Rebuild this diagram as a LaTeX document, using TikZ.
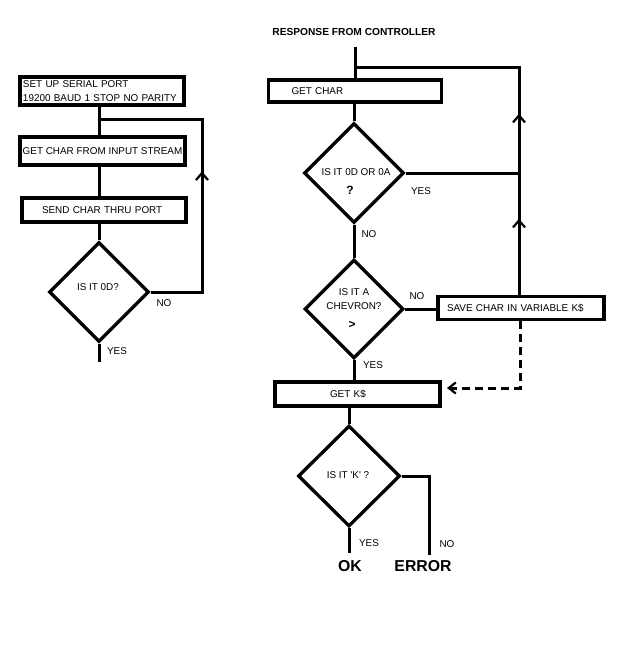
\documentclass[tikz,border=0pt]{standalone}
\usepackage{fontspec}
\setmainfont{Liberation Sans}
\usetikzlibrary{shapes.geometric,arrows.meta,decorations.markings}

\begin{document}
\begin{tikzpicture}[x=1pt,y=-1pt,
  txt/.style={inner sep=0pt, font=\fontsize{9.9pt}{14pt}\selectfont},
  bigtxt/.style={inner sep=0pt, font=\fontsize{15.8pt}{18pt}\selectfont\bfseries},
  procbox/.style={draw, line width=3.5pt, inner ysep=0pt,
    font=\fontsize{9.9pt}{14pt}\selectfont},
  decision/.style={draw, diamond, line width=3.3pt, inner sep=0pt,
    minimum width=100pt, minimum height=100pt},
  conn/.style={line width=3pt},
  upmark/.style={postaction={decorate, decoration={markings,
    mark=at position #1 with {\arrow{Straight Barb[length=7pt,width=12pt,line width=2.2pt]}}}}}
]
\useasboundingbox (0,0) rectangle (632,650);

% ---------- serial port loop (left) ----------
\node[procbox, minimum width=164pt, minimum height=28pt, text width=158pt,
      inner xsep=3pt, align=left] (setup) at (102,91)
  {SET UP SERIAL PORT\\19200 BAUD 1 STOP NO PARITY};
\node[procbox, minimum width=165pt, minimum height=28pt, inner xsep=2pt]
  (getin) at (102.5,151) {GET CHAR FROM INPUT STREAM};
\node[procbox, minimum width=164pt, minimum height=24pt, text width=124pt,
      inner xsep=20pt, align=left] (send) at (104,210)
  {SEND CHAR THRU PORT};
\node[decision] (d1) at (99,292) {};
\node[txt] (t1) at (98,287) {IS IT 0D?};
\node[txt] (no1) at (164,303) {NO};
\node[txt] (yes1) at (117,351) {YES};

\coordinate (lloop) at (202,120);
\coordinate (lj) at (99,120);
\coordinate (lend) at (99,362);

\draw[conn] (setup.south -| d1.north) -- (getin.north -| d1.north);
\draw[conn] (getin.south -| d1.north) -- (send.north -| d1.north);
\draw[conn] (send.south -| d1.north) -- (d1.north);
\draw[conn] (d1.south) -- (lend);
\draw[conn, upmark=172pt] (d1.east) -| (lloop) -- (lj);

% ---------- controller response (right) ----------
\node[inner sep=0pt, font=\fontsize{10.2pt}{12pt}\selectfont\bfseries]
  (title) at (354,32) {RESPONSE FROM CONTROLLER};
\coordinate (src) at (355,47);
\coordinate (rtop) at (519,68);

\node[procbox, minimum width=173pt, minimum height=22pt, text width=127pt,
      inner xsep=23pt, align=left] (getc) at (355,91) {GET CHAR};
\node[decision] (d2) at (354,173) {};
\node[txt] (t2a) at (356,172) {IS IT 0D OR 0A};
\node[inner sep=0pt, font=\fontsize{12pt}{14pt}\selectfont\bfseries] (t2b) at (350,190) {?};
\node[txt] (yes2) at (421,191) {YES};
\node[txt] (no2) at (369,234) {NO};

\node[decision, minimum width=99pt, minimum height=99pt] (d3) at (354,309) {};
\node[txt, align=center] (t3a) at (354,299) {IS IT A\\CHEVRON?};
\node[inner sep=0pt, font=\fontsize{12pt}{14pt}\selectfont\bfseries] (t3b) at (352,325) {>};
\node[txt] (no3) at (417,296) {NO};
\node[txt] (yes3) at (373,365) {YES};

\node[procbox, minimum width=166pt, minimum height=23pt, text width=148pt,
      inner xsep=9pt, align=left] (save) at (521,308)
  {SAVE CHAR IN VARIABLE K\$};

\node[procbox, minimum width=165pt, minimum height=24pt, text width=55pt,
      inner xsep=55pt, align=left] (getk) at (357.5,394) {GET K\$};

\node[decision, minimum width=102pt, minimum height=101pt] (d4) at (349,476) {};
\node[txt] (t4) at (348,475) {IS IT \textquotesingle K\textquotesingle{} ?};
\node[txt] (yes4) at (369,543) {YES};
\node[txt] (no4) at (447,544) {NO};
\node[bigtxt] (ok) at (350,566) {OK};
\node[bigtxt] (err) at (423,566) {ERROR};

\coordinate (okend) at (349,553);
\coordinate (errend) at (429,555);
\coordinate (dcorner) at (520,388);
\coordinate (dend) at (447,388);

\draw[conn] (src) -- (src |- getc.north);
\draw[conn] (getc.south -| d2.north) -- (d2.north);
\draw[conn] (d2.south) -- (d3.north);
\draw[conn] (d2.east) -- (d2.east -| rtop);
\draw[conn] (d3.east) -- (d3.east -| save.west);
\draw[conn, upmark=76pt, upmark=181pt] (save.north -| rtop) -- (rtop) -- (rtop -| src);
\draw[conn, dash pattern=on 8pt off 5pt,
      -{Straight Barb[length=7pt,width=11pt,line width=2.2pt]}]
  (save.south -| dcorner) -- (dcorner) -- (dend);
\draw[conn] (d3.south) -- (d3.south |- getk.north);
\draw[conn] (d4.north |- getk.south) -- (d4.north);
\draw[conn] (d4.south) -- (okend);
\draw[conn] (d4.east) -| (errend);
\end{tikzpicture}
\end{document}
